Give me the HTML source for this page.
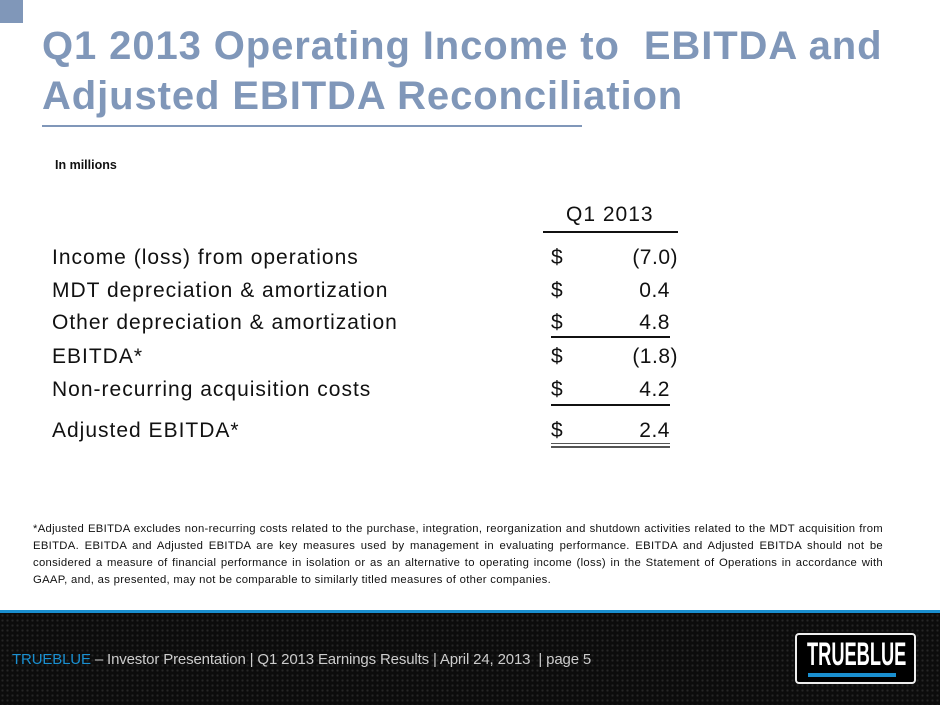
<!DOCTYPE html>
<html><head><meta charset="utf-8"><style>
*{margin:0;padding:0}
body{width:940px;height:705px;position:relative;background:#fff;font-family:"Liberation Sans",Arial,Helvetica,sans-serif;overflow:hidden}
.a{position:absolute;white-space:nowrap}
.t{font-size:40px;font-weight:bold;color:#8097b9;left:42px;line-height:48px;letter-spacing:0.9px}
.r{font-size:21px;color:#111;line-height:24px;letter-spacing:1px}
.v{text-align:right;width:120px;letter-spacing:0.5px}
.ln{position:absolute;background:#111;height:2px}
.fn{position:absolute;left:33px;top:521px;width:850px;font-size:11.3px;line-height:17px;text-align:justify;color:#111;letter-spacing:0.3px}
</style></head><body>
<div class="a" style="left:0;top:0;width:23px;height:23px;background:#8097b9"></div>
<div class="a t" style="top:22px">Q1 2013 Operating Income to&nbsp; EBITDA and</div>
<div class="a t" style="top:72px">Adjusted EBITDA Reconciliation</div>
<div class="a" style="left:42px;top:125px;width:540px;height:2px;background:#8097b9"></div>
<div class="a" style="left:55px;top:158px;font-size:12.5px;font-weight:bold;color:#111">In millions</div>

<div class="a r" style="left:566px;top:203px">Q1 2013</div>
<div class="ln" style="left:543px;top:231px;width:135px"></div>

<div class="a r" style="left:52px;top:246px">Income (loss) from operations</div>
<div class="a r" style="left:551px;top:246px">$</div><div class="a r v" style="left:558px;top:246px">(7.0)</div>

<div class="a r" style="left:52px;top:279px">MDT depreciation &amp; amortization</div>
<div class="a r" style="left:551px;top:279px">$</div><div class="a r v" style="left:550px;top:279px">0.4</div>

<div class="a r" style="left:52px;top:311px">Other depreciation &amp; amortization</div>
<div class="a r" style="left:551px;top:311px">$</div><div class="a r v" style="left:550px;top:311px">4.8</div>
<div class="ln" style="left:551px;top:336px;width:119px"></div>

<div class="a r" style="left:52px;top:345px">EBITDA*</div>
<div class="a r" style="left:551px;top:345px">$</div><div class="a r v" style="left:558px;top:345px">(1.8)</div>

<div class="a r" style="left:52px;top:378px">Non-recurring acquisition costs</div>
<div class="a r" style="left:551px;top:378px">$</div><div class="a r v" style="left:550px;top:378px">4.2</div>
<div class="ln" style="left:551px;top:404px;width:119px"></div>

<div class="a r" style="left:52px;top:419px">Adjusted EBITDA*</div>
<div class="a r" style="left:551px;top:419px">$</div><div class="a r v" style="left:550px;top:419px">2.4</div>
<div class="a" style="left:551px;top:443px;width:119px;height:1px;background:#555"></div>
<div class="a" style="left:551px;top:446px;width:119px;height:2px;background:#555"></div>

<div class="fn">*Adjusted EBITDA excludes non-recurring costs related to the purchase, integration, reorganization and shutdown activities related to the MDT acquisition from EBITDA. EBITDA and Adjusted EBITDA are key measures used by management in evaluating performance. EBITDA and Adjusted EBITDA should not be considered a measure of financial performance in isolation or as an alternative to operating income (loss) in the Statement of Operations in accordance with GAAP, and, as presented, may not be comparable to similarly titled measures of other companies.</div>

<div class="a" style="left:0;top:610px;width:940px;height:3px;background:#1a8fd0"></div>
<div class="a" style="left:0;top:613px;width:940px;height:92px;background:#0c0c0c;background-image:radial-gradient(circle,#262626 1px,transparent 1.3px);background-size:5px 5px"></div>
<div class="a" style="left:12px;top:651px;font-size:15px;color:#ccc;letter-spacing:-0.15px"><span style="color:#1a8fd0">TRUEBLUE</span> – Investor Presentation | Q1 2013 Earnings Results | April 24, 2013&nbsp; | page 5</div>
<div class="a" style="left:795px;top:633px;width:117px;height:47px;border:2px solid #eee;border-radius:4px;background:#000"></div>
<div class="a" style="left:807px;top:636px;font-size:32px;font-weight:bold;color:#fff;transform:scaleX(0.57);transform-origin:left top">TRUEBLUE</div>
<div class="a" style="left:808px;top:673px;width:88px;height:4px;background:#1a8fd0"></div>
</body></html>
